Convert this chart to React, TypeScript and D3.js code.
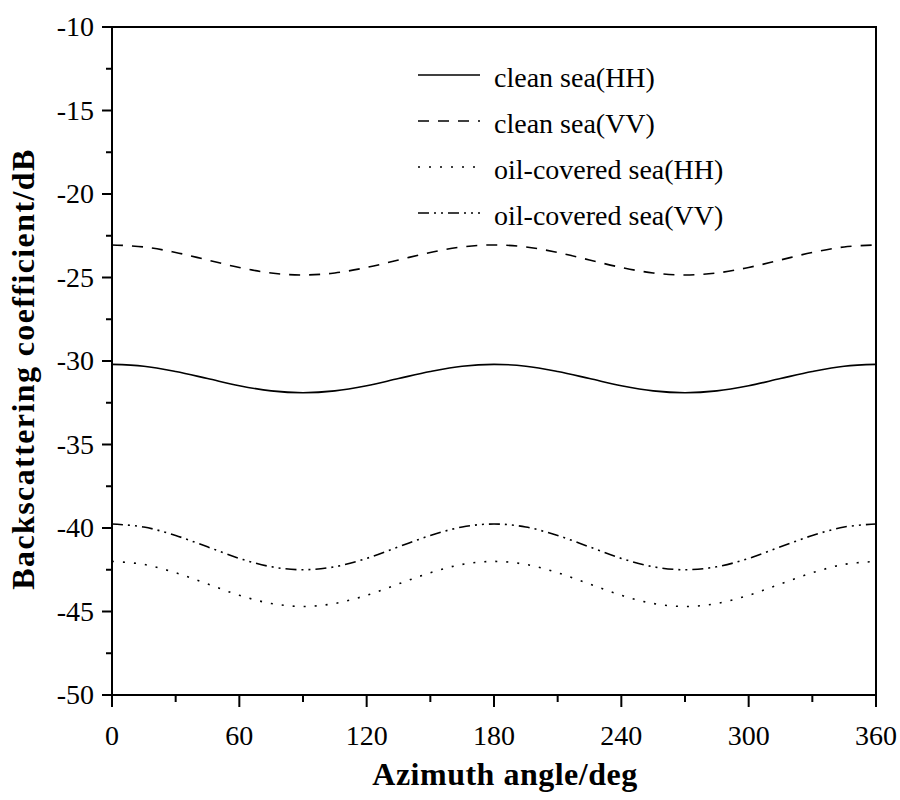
import React from 'react';
import * as d3 from 'd3';

const angles = [0, 15, 30, 45, 60, 75, 90, 105, 120, 135, 150, 165, 180, 195, 210, 225, 240, 255, 270, 285, 300, 315, 330, 345, 360];
const cleanHH = [-30.2, -30.31, -30.63, -31.05, -31.48, -31.79, -31.9, -31.79, -31.48, -31.05, -30.63, -30.31, -30.2, -30.31, -30.63, -31.05, -31.48, -31.79, -31.9, -31.79, -31.48, -31.05, -30.63, -30.31, -30.2];
const cleanVV = [-23.05, -23.17, -23.5, -23.95, -24.4, -24.73, -24.85, -24.73, -24.4, -23.95, -23.5, -23.17, -23.05, -23.17, -23.5, -23.95, -24.4, -24.73, -24.85, -24.73, -24.4, -23.95, -23.5, -23.17, -23.05];
const oilHH = [-42.0, -42.18, -42.68, -43.35, -44.03, -44.52, -44.7, -44.52, -44.03, -43.35, -42.68, -42.18, -42.0, -42.18, -42.68, -43.35, -44.03, -44.52, -44.7, -44.52, -44.03, -43.35, -42.68, -42.18, -42.0];
const oilVV = [-39.76, -39.94, -40.45, -41.13, -41.82, -42.32, -42.5, -42.32, -41.82, -41.13, -40.45, -39.94, -39.76, -39.94, -40.45, -41.13, -41.82, -42.32, -42.5, -42.32, -41.82, -41.13, -40.45, -39.94, -39.76];

const xTicks = [0, 60, 120, 180, 240, 300, 360];
const xMinor = [30, 90, 150, 210, 270, 330];
const yTicks = [-10, -15, -20, -25, -30, -35, -40, -45, -50];
const yMinor = [-12.5, -17.5, -22.5, -27.5, -32.5, -37.5, -42.5, -47.5];

const series = [
  { name: 'clean sea(HH)', values: cleanHH, dash: '' },
  { name: 'clean sea(VV)', values: cleanVV, dash: '11,9' },
  { name: 'oil-covered sea(HH)', values: oilHH, dash: '2,9' },
  { name: 'oil-covered sea(VV)', values: oilVV, dash: '11,5,2,5,2,5' },
];

const font = '"Liberation Serif", "Times New Roman", serif';

export default function App() {
  const W = 900, H = 800;
  const left = 112, right = 876, top = 27, bottom = 695;
  const x = d3.scaleLinear().domain([0, 360]).range([left, right]);
  const y = d3.scaleLinear().domain([-50, -10]).range([bottom, top]);
  const line = d3.line<number>()
    .x((_, i) => x(angles[i]))
    .y(d => y(d))
    .curve(d3.curveCatmullRom);

  return (
    <svg width={W} height={H} style={{ display: 'block', position: 'fixed', left: 0, top: 0 }} fontFamily={font}>
      <rect x={0} y={0} width={W} height={H} fill="#fff" />
      {series.map(s => (
        <path key={s.name} d={line(s.values) || ''} fill="none" stroke="#000" strokeWidth={1.6} strokeDasharray={s.dash} />
      ))}
      <rect x={left} y={top} width={right - left} height={bottom - top} fill="none" stroke="#000" strokeWidth={2} />
      {yTicks.map(t => (
        <g key={t}>
          <line x1={left - 10} x2={left} y1={y(t)} y2={y(t)} stroke="#000" strokeWidth={2} />
          <text x={left - 18} y={y(t)} dy="0.33em" textAnchor="end" fontSize={28}>{t}</text>
        </g>
      ))}
      {yMinor.map(t => (
        <line key={t} x1={left - 6} x2={left} y1={y(t)} y2={y(t)} stroke="#000" strokeWidth={2} />
      ))}
      {xTicks.map(t => (
        <g key={t}>
          <line x1={x(t)} x2={x(t)} y1={bottom} y2={bottom + 12} stroke="#000" strokeWidth={2} />
          <text x={x(t)} y={745} textAnchor="middle" fontSize={28}>{t}</text>
        </g>
      ))}
      {xMinor.map(t => (
        <line key={t} x1={x(t)} x2={x(t)} y1={bottom} y2={bottom + 7} stroke="#000" strokeWidth={2} />
      ))}
      <text x={505} y={785} textAnchor="middle" fontSize={32} fontWeight="bold" letterSpacing={0.5}>Azimuth angle/deg</text>
      <text transform={`translate(34,369) rotate(-90)`} textAnchor="middle" fontSize={32} fontWeight="bold" letterSpacing={1.4}>Backscattering coefficient/dB</text>
      {series.map((s, i) => (
        <g key={s.name} transform={`translate(0,${75 + i * 46})`}>
          <line x1={418} x2={480} y1={0} y2={0} stroke="#000" strokeWidth={1.6} strokeDasharray={s.dash} />
          <text x={494} y={0} dy="0.42em" fontSize={28}>{s.name}</text>
        </g>
      ))}
    </svg>
  );
}
